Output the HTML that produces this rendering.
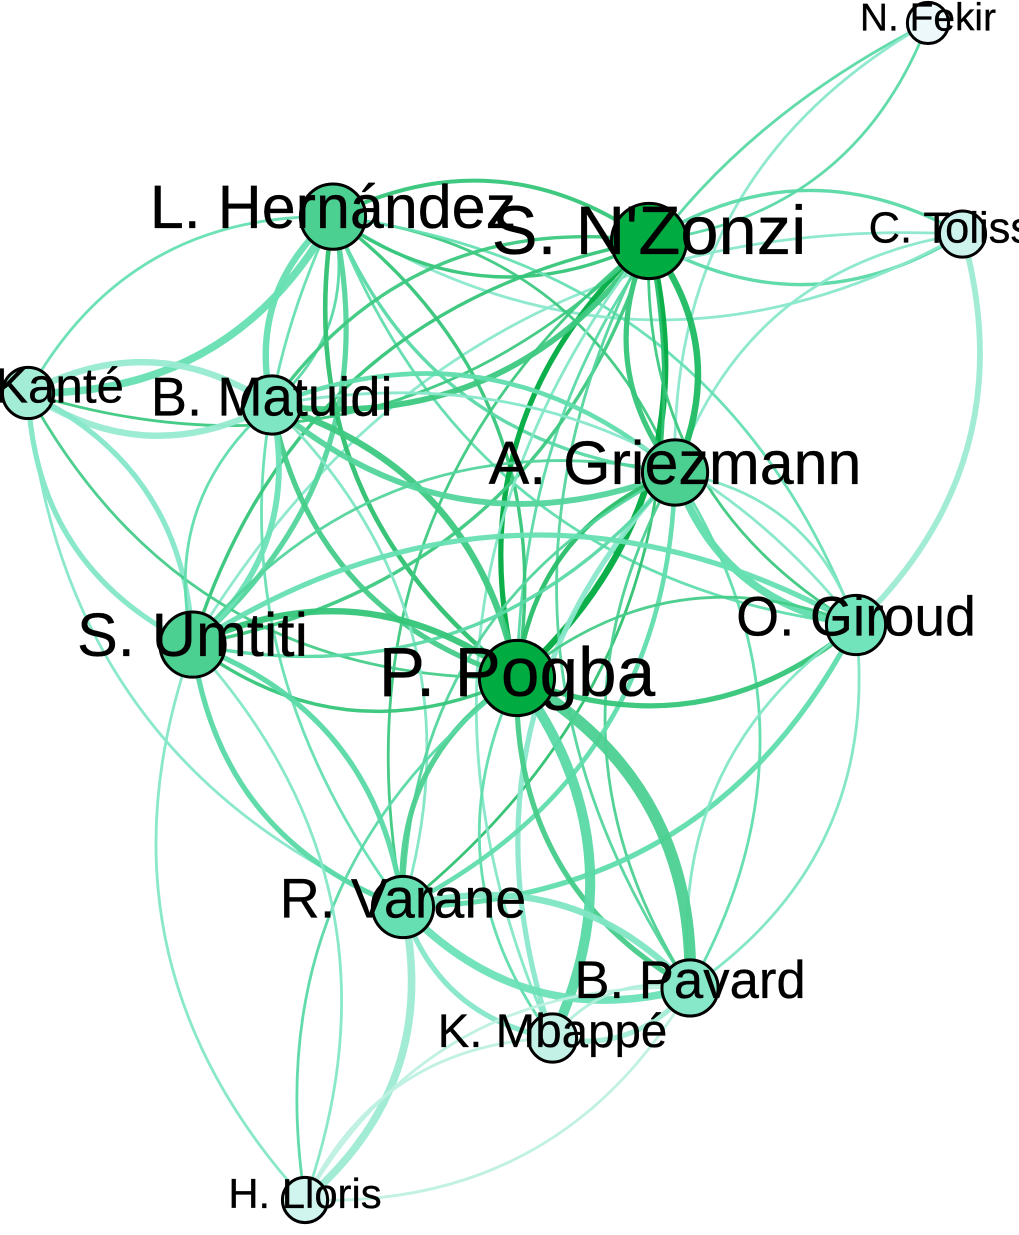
<!DOCTYPE html>
<html lang="en">
<head>
<meta charset="utf-8">
<title>Passing network</title>
<style>
  html, body { margin: 0; padding: 0; background: #fff; }
  #chart { display: block; width: 1019px; height: 1235px; overflow: hidden; }
  text { font-family: "Liberation Sans", Arial, sans-serif; fill: #000; stroke: #000; stroke-width: 0.3px; text-anchor: middle; }
</style>
</head>
<body>
<svg id="chart" xmlns="http://www.w3.org/2000/svg" width="1019" height="1235" viewBox="0 0 1019 1235">
  <g id="edges" fill="none"></g>
  <g id="nodes"></g>
  <g id="labels"></g>
</svg>
<script>
// Players (nodes)
const nodeIds = ['FE','TO','NZ','LH','KA','BM','AG','OG','SU','PP','RV','BP','KM','HL'];
const nodeNames = ['N. Fekir','C. Tolisso',"S. N'Zonzi",'L. Hernández','N. Kanté','B. Matuidi','A. Griezmann','O. Giroud','S. Umtiti','P. Pogba','R. Varane','B. Pavard','K. Mbappé','H. Lloris'];
const nodeLayoutX = [0.9635,1.0005,0.6642,0.3251,-0.0021,0.2593,0.6921,0.8863,0.1744,0.5225,0.4002,0.7082,0.5606,0.2951];
const nodeLayoutY = [0.0008,0.1800,0.1859,0.1652,0.3149,0.3251,0.3824,0.5119,0.5285,0.5569,0.7513,0.8200,0.8625,1.0000];
const nodeStrength = [22,24.5,39,34,27,30.5,34,31,34,39,32,29.5,25.5,24];
const nodeLabelCex = [38.9,43.5,68.7,61,49.3,54.4,61,55.3,61.2,69.4,55.7,52.7,47.5,41.8];

// Directed passes (edges): each one bows to the left of its direction of travel
const edgePairs = [
  'PP>FE','FE>NZ','AG>FE','NZ>TO','TO>NZ','SU>TO','TO>LH','AG>TO','TO>OG',
  'LH>NZ','NZ>LH','KA>LH','LH>KA','BM>LH','LH>BM','LH>SU','PP>LH','LH>PP','LH>AG','AG>LH','LH>OG','OG>LH','RV>LH',
  'PP>NZ','NZ>PP','NZ>AG','AG>NZ','OG>NZ','BM>NZ','NZ>BM','SU>NZ','NZ>SU','RV>NZ','NZ>RV','BP>NZ','KM>NZ','NZ>KA',
  'KA>BM','BM>KA','SU>KA','KA>SU','PP>KA','RV>KA',
  'BM>PP','PP>BM','BM>AG','AG>BM','BM>OG','SU>BM','BM>SU','BM>RV',
  'PP>AG','KM>AG','AG>OG','OG>AG','AG>BP','BP>AG','AG>RV','RV>AG','SU>AG','AG>SU',
  'SU>OG','OG>PP','PP>OG','OG>RV','BP>OG','OG>BP','SU>PP','PP>SU','PP>BP','BP>PP','PP>KM','KM>PP','RV>PP','HL>PP',
  'SU>RV','RV>SU','SU>HL','HL>SU',
  'RV>BP','BP>RV','KM>RV','RV>HL','HL>BP','HL>KM','BP>HL','BP>KM','KM>BP'
];
const edgeWeight = [
  2,2,2,2.5,2.5,2,2,2,4.5,
  3,2.5,2,6,5,2,4,3.5,2.5,2,2.5,2,2,2,
  4,5,5,4,2,2.5,4.5,2.5,2.5,2,2,2,2,2,
  5,5,4,4,2,2,
  5,4,3.5,4.5,2,2,4.5,2,
  3.5,4,2,6,2,2,3.5,2,2,2.5,
  4,4,2,4,2,2,5,2.5,9.5,4,8,2,4,2,
  4,4,2,2,
  5,6,4,6,2,2,2,4,2
];
const edgeShade = [
  33,33,29,33,33,29,29,29,27.5,
  35.5,35.5,32,32,32,33,33.5,36,35.5,35,33,32,32.5,32,
  39,39,37,35.5,35,35,35,35.5,35,35,36,33.5,30,35,
  28,28,30,29.5,34.5,29.5,
  35,34.5,32.5,33.5,29.5,32.5,31.5,30.5,
  36.5,29,30.5,32.5,32.5,34,32.5,33.5,33.5,33,
  32,35.5,34.5,32.5,30,30.5,35.5,35.5,34,34.5,33,32.5,34,33,
  33,33,30,30,
  30.5,31.5,29.5,27.5,26,26,26,27,26.5
];

// Colour ramp shared by nodes and edges
const rampValues = [22,24,25,26,27,29,30.5,31,32,33,34,39];
const rampColors = ['#ecf8fa','#d0f4ee','#c9f2e9','#bdf0e2','#a3ecd6','#8ae8cb','#7fe6c4','#72e4bc','#66e0b2','#5ad9a6','#4cd091','#00ab41'];

const SVG_NS = 'http://www.w3.org/2000/svg';
const BEND = 0.3;

function scaleX(v) { return 30 + 932 * v; }
function scaleY(v) { return 22 + 1178 * v; }
function scaleRadius(v) { return v - 1.4; }
function scaleWidth(w) { return w * 1.2 + 0.4; }
function hexToRgb(h) { return [1, 3, 5].map(function (i) { return parseInt(h.substr(i, 2), 16); }); }
function scaleColor(v) {
  if (v <= rampValues[0]) return rampColors[0];
  for (let i = 1; i < rampValues.length; i++) {
    if (v <= rampValues[i]) {
      const t = (v - rampValues[i - 1]) / (rampValues[i] - rampValues[i - 1]);
      const a = hexToRgb(rampColors[i - 1]);
      const b = hexToRgb(rampColors[i]);
      return 'rgb(' + a.map(function (c, k) { return Math.round(c + (b[k] - c) * t); }).join(',') + ')';
    }
  }
  return rampColors[rampColors.length - 1];
}
function nodePoint(id) {
  const i = nodeIds.indexOf(id);
  return { x: scaleX(nodeLayoutX[i]), y: scaleY(nodeLayoutY[i]) };
}

const edgeLayer = document.getElementById('edges');
edgePairs.forEach(function (pair, i) {
  const ends = pair.split('>');
  const a = nodePoint(ends[0]);
  const b = nodePoint(ends[1]);
  const dx = b.x - a.x;
  const dy = b.y - a.y;
  const cx = (a.x + b.x) / 2 + dy * BEND;
  const cy = (a.y + b.y) / 2 - dx * BEND;
  const path = document.createElementNS(SVG_NS, 'path');
  path.setAttribute('d', 'M' + a.x + ' ' + a.y + ' Q' + cx + ' ' + cy + ' ' + b.x + ' ' + b.y);
  path.setAttribute('stroke', scaleColor(edgeShade[i]));
  path.setAttribute('stroke-width', scaleWidth(edgeWeight[i]));
  path.setAttribute('stroke-opacity', '0.95');
  
  
  edgeLayer.appendChild(path);
});

const nodeLayer = document.getElementById('nodes');
const labelLayer = document.getElementById('labels');
nodeIds.forEach(function (id, i) {
  const x = scaleX(nodeLayoutX[i]);
  const y = scaleY(nodeLayoutY[i]);
  const circle = document.createElementNS(SVG_NS, 'circle');
  circle.setAttribute('cx', x);
  circle.setAttribute('cy', y);
  circle.setAttribute('r', scaleRadius(nodeStrength[i]));
  circle.setAttribute('fill', scaleColor(nodeStrength[i]));
  circle.setAttribute('stroke', '#000');
  circle.setAttribute('stroke-width', 3);
  
  
  nodeLayer.appendChild(circle);

  const fs = nodeLabelCex[i];
  const label = document.createElementNS(SVG_NS, 'text');
  label.setAttribute('x', x);
  label.setAttribute('y', y + fs * 0.19 + (id === 'PP' ? 5 : 0));
  label.setAttribute('font-size', fs);
  
  
  label.textContent = nodeNames[i];
  labelLayer.appendChild(label);
});
</script>
</body>
</html>
